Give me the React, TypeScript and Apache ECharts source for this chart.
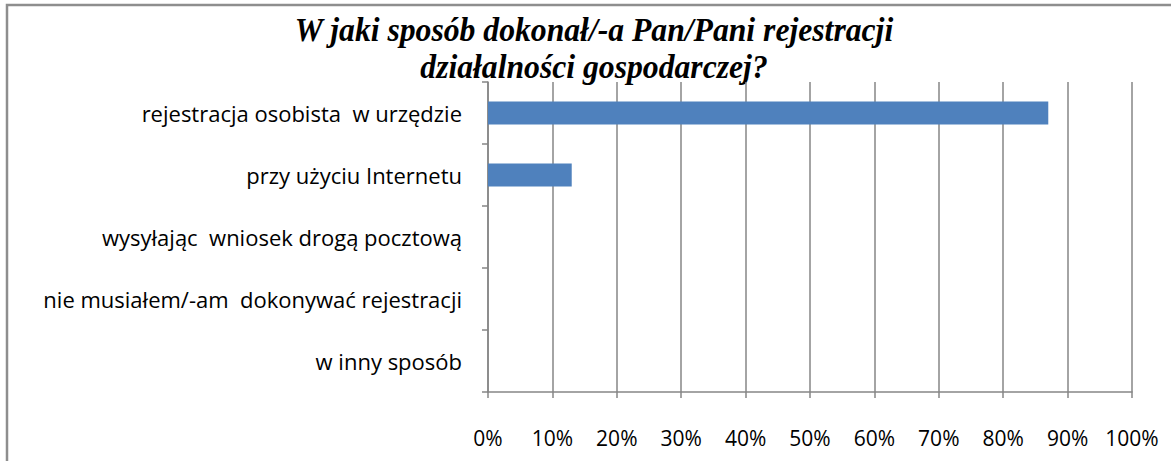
import React, { useEffect, useRef } from "react";
import * as echarts from "echarts";

const categories = [
  "rejestracja osobista  w urzędzie",
  "przy użyciu Internetu",
  "wysyłając  wniosek drogą pocztową",
  "nie musiałem/-am  dokonywać rejestracji",
  "w inny sposób",
];
const values = [87, 13, 0, 0, 0];
const titleLines = ["W jaki sposób dokonał/-a Pan/Pani rejestracji", "działalności gospodarczej?"];
const xMax = 100;
const xInterval = 10;

export default function App() {
  const ref = useRef<HTMLDivElement>(null);
  useEffect(() => {
    document.body.style.margin = "0";
    const chart = echarts.init(ref.current!, undefined, { renderer: "svg" });
    const gray = "#868686";
    const labelFont = "'Open Sans', Lato, sans-serif";
    chart.setOption({
      animation: false,
      backgroundColor: "#ffffff",
      graphic: [
        {
          type: "rect",
          shape: { x: 7, y: 5, width: 1300, height: 600 },
          style: { fill: "none", stroke: "#8e8e8e", lineWidth: 2.5 },
          silent: true,
        },
        {
          type: "group",
          x: 594,
          y: 48,
          scaleX: 0.96,
          children: [
            {
              type: "text",
              x: 0,
              y: 0,
              style: {
                text: titleLines.join("\n"),
                font: "italic bold 33px 'Liberation Serif', 'Times New Roman', serif",
                fill: "#000000",
                textAlign: "center",
                textVerticalAlign: "middle",
                lineHeight: 37,
              },
            },
          ],
        },
      ],
      grid: { left: 488, right: 39, top: 82, bottom: 69, containLabel: false },
      xAxis: {
        type: "value",
        min: 0,
        max: xMax,
        interval: xInterval,
        axisLine: { show: true, lineStyle: { color: gray, width: 1.5 } },
        axisTick: { show: true, length: 6, lineStyle: { color: gray, width: 1.5 } },
        splitLine: { show: true, lineStyle: { color: gray, width: 1.5 } },
        axisLabel: {
          formatter: "{value}%",
          margin: 35,
          color: "#000000",
          fontSize: 21,
          fontFamily: labelFont,
        },
      },
      yAxis: {
        type: "category",
        data: categories,
        inverse: true,
        axisLine: { show: true, lineStyle: { color: gray, width: 1.5 } },
        axisTick: { show: true, length: 6, lineStyle: { color: gray, width: 1.5 } },
        axisLabel: {
          margin: 26,
          color: "#000000",
          fontSize: 22,
          fontFamily: labelFont,
        },
      },
      series: [
        {
          type: "bar",
          data: values,
          barWidth: 23,
          itemStyle: { color: "#4f81bd" },
        },
      ],
    });
    return () => chart.dispose();
  }, []);
  return <div ref={ref} style={{ width: 1171, height: 461, position: "fixed", left: 0, top: 0 }} />;
}
